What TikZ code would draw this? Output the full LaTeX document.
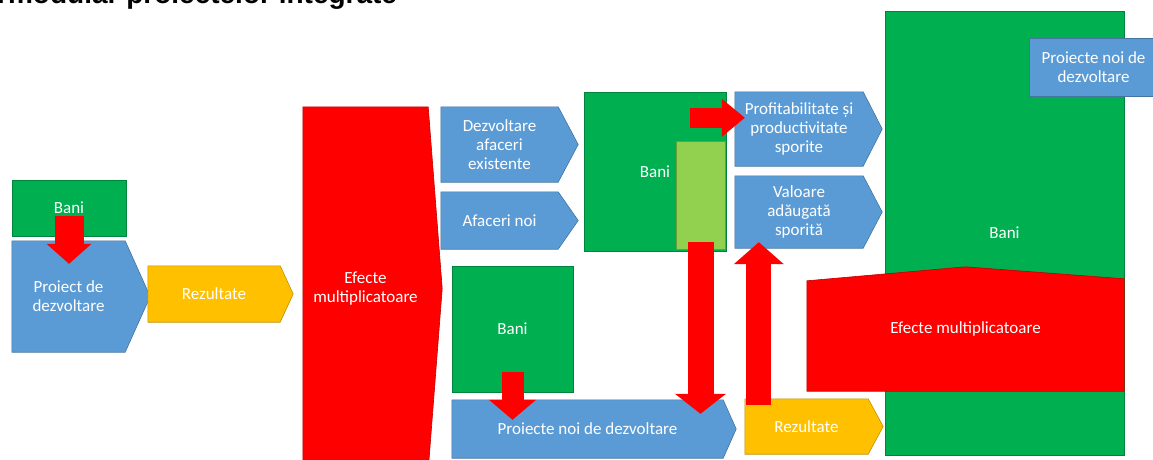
\documentclass[tikz,border=0pt]{standalone}
\usepackage{fontspec}
\setmainfont{Carlito}
\newfontfamily\titlefont{Liberation Sans}
\usepackage{tikz}
\usetikzlibrary{arrows.meta, calc, backgrounds}
\definecolor{shapeblue}{RGB}{91, 155, 213}
\definecolor{moneygreen}{RGB}{0, 176, 80}
\definecolor{lightmoney}{RGB}{146, 208, 80}
\definecolor{effectred}{RGB}{255, 0, 0}
\definecolor{resultgold}{RGB}{255, 192, 0}

\begin{document}
\begin{tikzpicture}[x=1pt, y=-1pt,
    boxtext/.style={inner sep=0pt, align=center, text=white, font=\fontsize{17}{19}\selectfont},
    panel/.style={fill=#1, draw=#1!75!black, line width=0.6pt},
    redarrow/.style n args={3}{draw=effectred, line width=#1, -{Triangle[width=#2, length=#3, line width=0pt]}}]
    \useasboundingbox (0,0) rectangle (1153,459);
    \clip (0,0) rectangle (1153,459);
    \node[anchor=base west, inner sep=0pt, font=\titlefont\bfseries\fontsize{28}{32}\selectfont] (title) at (-3,3) {rmodular proiectelor integrate};
    % boxes
    \node[boxtext, minimum width=114pt, minimum height=56pt] (bani1) at (69,208) {Bani};
    \node[boxtext, minimum width=113pt, minimum height=111pt] (proiect) at (68.5,296.5) {Proiect de\\dezvoltare};
    \node[boxtext, minimum width=132pt, minimum height=56pt] (rez1) at (214,294) {Rezultate};
    \node[boxtext, minimum width=125pt, minimum height=363pt] (efecte1) at (365.5,288.5) {Efecte\\multiplicatoare};
    \node[boxtext, minimum width=117pt, minimum height=75pt] (dezv) at (499.5,144.5) {Dezvoltare\\afaceri\\existente};
    \node[boxtext, minimum width=117pt, minimum height=57pt] (afaceri) at (499.5,220.5) {Afaceri noi};
    \node[boxtext, minimum width=121pt, minimum height=126pt] (bani4) at (512.5,329) {Bani};
    \node[boxtext, minimum width=271pt, minimum height=58pt] (proiect2) at (587.5,429) {Proiecte noi de dezvoltare};
    \node[boxtext, minimum width=142pt, minimum height=159pt] (bani3) at (655,171.5) {Bani};
    \node[inner sep=0pt, minimum width=49pt, minimum height=108pt] (lgreen) at (700.5,195) {};
    \node[boxtext, minimum width=128pt, minimum height=74pt] (profit) at (799,129) {Profitabilitate și\\productivitate\\sporite};
    \node[boxtext, minimum width=128pt, minimum height=72pt] (valoare) at (799,212) {Valoare\\adăugată\\sporită};
    \node[boxtext, minimum width=123pt, minimum height=55pt] (rez2) at (806.5,426.5) {Rezultate};
    \node[boxtext, minimum width=239pt, minimum height=444pt] (bani5) at (1004.5,233) {Bani};
    \node[boxtext, minimum width=129pt, minimum height=58pt] (proiect3) at (1093.5,67) {Proiecte noi de\\dezvoltare};
    \node[boxtext, minimum width=317pt, minimum height=124pt] (efecte2) at (965.5,329) {Efecte multiplicatoare};
    % shapes behind the texts
    \begin{scope}[on background layer]
        \clip (0,0) rectangle (1153,459);
        \foreach \n/\c/\t in {proiect/shapeblue/25, rez1/resultgold/13, efecte1/effectred/14, dezv/shapeblue/20, afaceri/shapeblue/20, proiect2/shapeblue/13, profit/shapeblue/19, valoare/shapeblue/19, rez2/resultgold/15}
            \filldraw[panel=\c] (\n.north west) -- (\n.north east) -- ($(\n.east)+(\t,0)$) -- (\n.south east) -- (\n.south west) -- cycle;
        \foreach \n/\c in {bani1/moneygreen, bani4/moneygreen, bani3/moneygreen, lgreen/lightmoney, bani5/moneygreen, proiect3/shapeblue}
            \filldraw[panel=\c] (\n.north west) rectangle (\n.south east);
        \filldraw[panel=effectred] (efecte2.south west) -- ($(efecte2.north west)+(0,14)$) -- (efecte2.north) -- ($(efecte2.north east)+(0,12)$) -- (efecte2.south east) -- cycle;
    \end{scope}
    % red arrows
    \draw[redarrow={29pt}{45pt}{20pt}] ($(bani1.south)+(0,-20)$) -- ($(bani1.south |- proiect.north)+(0,23)$);
    \draw[redarrow={22pt}{47pt}{20pt}] ($(bani4.south)+(0,-20)$) -- ($(bani4.south |- proiect2.north)+(0,20)$);
    \draw[redarrow={26pt}{51pt}{20pt}] ($(lgreen.south)+(0,-7)$) -- ($(lgreen.south |- proiect2.north)+(0,14)$);
    \draw[redarrow={25pt}{50pt}{22pt}] ($(rez2.north west)+(14,6)$) -- ($(rez2.north west |- valoare.south)+(14,-6)$);
    \draw[redarrow={20pt}{38pt}{23pt}] ($(bani3.north east)+(-36,26)$) -- ($(profit.north west)+(10,26)$);
\end{tikzpicture}
\end{document}
